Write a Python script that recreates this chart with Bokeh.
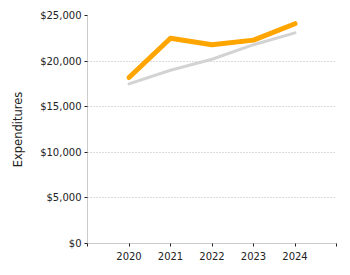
from bokeh.plotting import figure
from bokeh.models import Range1d, FixedTicker, NumeralTickFormatter
from bokeh.embed import file_html
from bokeh.resources import INLINE

years = [2020, 2021, 2022, 2023, 2024]
expenditures = [18200, 22500, 21800, 22300, 24100]
benchmark = [17500, 19000, 20200, 21800, 23100]
x_ticks = [2019, 2020, 2021, 2022, 2023, 2024, 2025]
y_ticks = [0, 5000, 10000, 15000, 20000, 25000]

FONT = "DejaVu Sans"

p = figure(width=350, height=275, output_backend="svg", toolbar_location=None,
           x_range=Range1d(2019, 2025), y_range=Range1d(0, 25000),
           min_border_left=87, min_border_right=14, min_border_top=15, min_border_bottom=32)
p.outline_line_color = None
p.background_fill_color = "white"

p.line(years, benchmark, line_color="#d3d3d3", line_width=3, line_cap="round", line_join="round")
p.line(years, expenditures, line_color="#ffa500", line_width=5, line_cap="round", line_join="round")

p.xgrid.grid_line_color = None
p.ygrid.grid_line_color = "#b8b8b8"
p.ygrid.grid_line_dash = "1 2"
p.ygrid.grid_line_width = 1

p.xaxis.ticker = FixedTicker(ticks=x_ticks)
p.xaxis.major_label_overrides = {2019: "", 2025: ""}
p.yaxis.ticker = FixedTicker(ticks=y_ticks)
p.yaxis.formatter = NumeralTickFormatter(format="$0,0")

for ax in (p.xaxis, p.yaxis):
    ax.axis_line_color = "#cccccc"
    ax.major_tick_line_color = "#222222"
    ax.major_tick_in = 0
    ax.major_tick_out = 3
    ax.minor_tick_line_color = None
    ax.major_label_text_font = FONT
    ax.major_label_text_font_size = "10px"
    ax.major_label_text_color = "#222222"

p.xaxis.major_label_standoff = 5
p.yaxis.major_label_standoff = 3
p.yaxis.axis_label = "Expenditures"
p.yaxis.axis_label_text_font = FONT
p.yaxis.axis_label_text_font_size = "11.5px"
p.yaxis.axis_label_text_font_style = "normal"
p.yaxis.axis_label_text_color = "#222222"
p.yaxis.axis_label_standoff = 12

open("out.html", "w").write(file_html(p, INLINE))
